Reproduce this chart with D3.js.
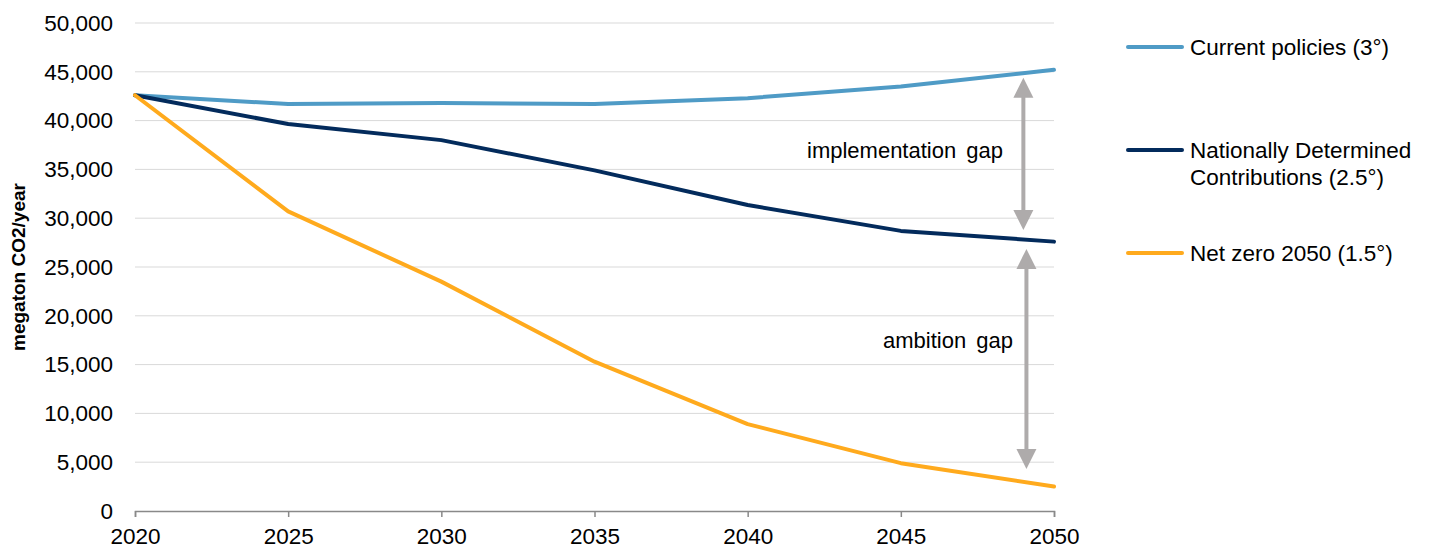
<!DOCTYPE html>
<html>
<head>
<meta charset="utf-8">
<script src="https://cdn.jsdelivr.net/npm/d3@7"></script>
<style>
  html, body { margin: 0; padding: 0; background: #fff; }
  svg { display: block; font-family: "Liberation Sans", Arial, sans-serif; }
</style>
</head>
<body>
<svg id="chart" width="1431" height="550"></svg>
<script>
// Emission pathways, megaton CO2 per year
const years = [2020, 2025, 2030, 2035, 2040, 2045, 2050];
const currentPolicies = [42600, 41700, 41800, 41700, 42300, 43500, 45200];
const ndc = [42600, 39650, 38000, 34900, 31350, 28700, 27600];
const netZero = [42600, 30700, 23500, 15300, 8900, 4900, 2500];

const seriesNames = ["Current policies (3°)", "Nationally Determined|Contributions (2.5°)", "Net zero 2050 (1.5°)"];
const seriesColors = ["#4F9BC6", "#032B5C", "#FFAA1D"];

const yTicks = [0, 5000, 10000, 15000, 20000, 25000, 30000, 35000, 40000, 45000, 50000];

// Gap arrows: year position and value range
const gapLabels = ["implementation gap", "ambition gap"];
const gapYear = [2049, 2049.1];
const gapFrom = [44400, 26850];
const gapTo = [28800, 4300];

const svg = d3.select("#chart");
const margin = { left: 135, right: 377, top: 23, bottom: 39 };
const W = 1431, H = 550;
const fontSize = 22.5;

const x = d3.scaleLinear().domain([2020, 2050]).range([margin.left, W - margin.right]);
const y = d3.scaleLinear().domain([0, 50000]).range([H - margin.bottom, margin.top]);

// Gridlines
svg.append("g")
  .selectAll("line")
  .data(yTicks.filter(d => d > 0))
  .join("line")
  .attr("x1", x(2020)).attr("x2", x(2050))
  .attr("y1", d => y(d)).attr("y2", d => y(d))
  .attr("stroke", "#D9D9D9").attr("stroke-width", 1);

// Y axis labels
const yAxis = svg.append("g")
  .attr("transform", `translate(${x(2020)},0)`)
  .call(d3.axisLeft(y).tickValues(yTicks).tickSize(0).tickPadding(22).tickFormat(d3.format(",")));
yAxis.select(".domain").remove();
yAxis.selectAll("text").attr("font-size", fontSize).attr("fill", "#000").attr("font-family", "Liberation Sans, Arial, sans-serif");

// X axis
const xAxis = svg.append("g")
  .attr("transform", `translate(0,${y(0)})`)
  .call(d3.axisBottom(x).tickValues(years).tickSize(6).tickPadding(11).tickFormat(d3.format("d")));
xAxis.select(".domain").attr("stroke", "#898989").attr("stroke-width", 1.5);
xAxis.selectAll(".tick line").attr("stroke", "#898989").attr("stroke-width", 1.5);
xAxis.selectAll("text").attr("font-size", fontSize).attr("fill", "#000").attr("font-family", "Liberation Sans, Arial, sans-serif");

// Y axis title
svg.append("text")
  .attr("transform", `translate(25,${(y(0) + y(50000)) / 2}) rotate(-90)`)
  .attr("text-anchor", "middle")
  .attr("font-size", 19).attr("font-weight", "bold")
  .text("megaton CO2/year");

// Series lines
const line = d3.line().x((d, i) => x(years[i])).y(d => y(d));
const allSeries = [currentPolicies, ndc, netZero];
svg.append("g")
  .selectAll("path")
  .data(allSeries)
  .join("path")
  .attr("d", d => line(d))
  .attr("fill", "none")
  .attr("stroke", (d, i) => seriesColors[i])
  .attr("stroke-width", 4)
  .attr("stroke-linejoin", "round")
  .attr("stroke-linecap", "round");

// Double-headed gap arrows
const arrowColor = "#AEABAB";
const headLen = 20, headHalf = 10;
const arrows = svg.append("g");
gapYear.forEach((yr, i) => {
  const ax = x(yr);
  const y1 = y(gapFrom[i]), y2 = y(gapTo[i]);
  arrows.append("line")
    .attr("x1", ax).attr("x2", ax)
    .attr("y1", y1 + headLen - 2).attr("y2", y2 - headLen + 2)
    .attr("stroke", arrowColor).attr("stroke-width", 4);
  arrows.append("path")
    .attr("d", `M${ax},${y1} L${ax - headHalf},${y1 + headLen} L${ax + headHalf},${y1 + headLen} Z`)
    .attr("fill", arrowColor);
  arrows.append("path")
    .attr("d", `M${ax},${y2} L${ax - headHalf},${y2 - headLen} L${ax + headHalf},${y2 - headLen} Z`)
    .attr("fill", arrowColor);
});

// Gap labels
svg.append("text").attr("x", 807).attr("y", 158).attr("font-size", 22).attr("word-spacing", 4).text(gapLabels[0]);
svg.append("text").attr("x", 883).attr("y", 348).attr("font-size", 22).attr("word-spacing", 4).text(gapLabels[1]);

// Legend
const legendY = [47, 150, 253];
const legend = svg.append("g");
seriesNames.forEach((name, i) => {
  legend.append("line")
    .attr("x1", 1128).attr("x2", 1182)
    .attr("y1", legendY[i]).attr("y2", legendY[i])
    .attr("stroke", seriesColors[i]).attr("stroke-width", 4)
    .attr("stroke-linecap", "round");
  const t = legend.append("text")
    .attr("x", 1190).attr("y", legendY[i] + 8)
    .attr("font-size", fontSize);
  name.split("|").forEach((part, j) => {
    t.append("tspan").attr("x", 1190).attr("dy", j === 0 ? 0 : 27).text(part);
  });
});
</script>
</body>
</html>
